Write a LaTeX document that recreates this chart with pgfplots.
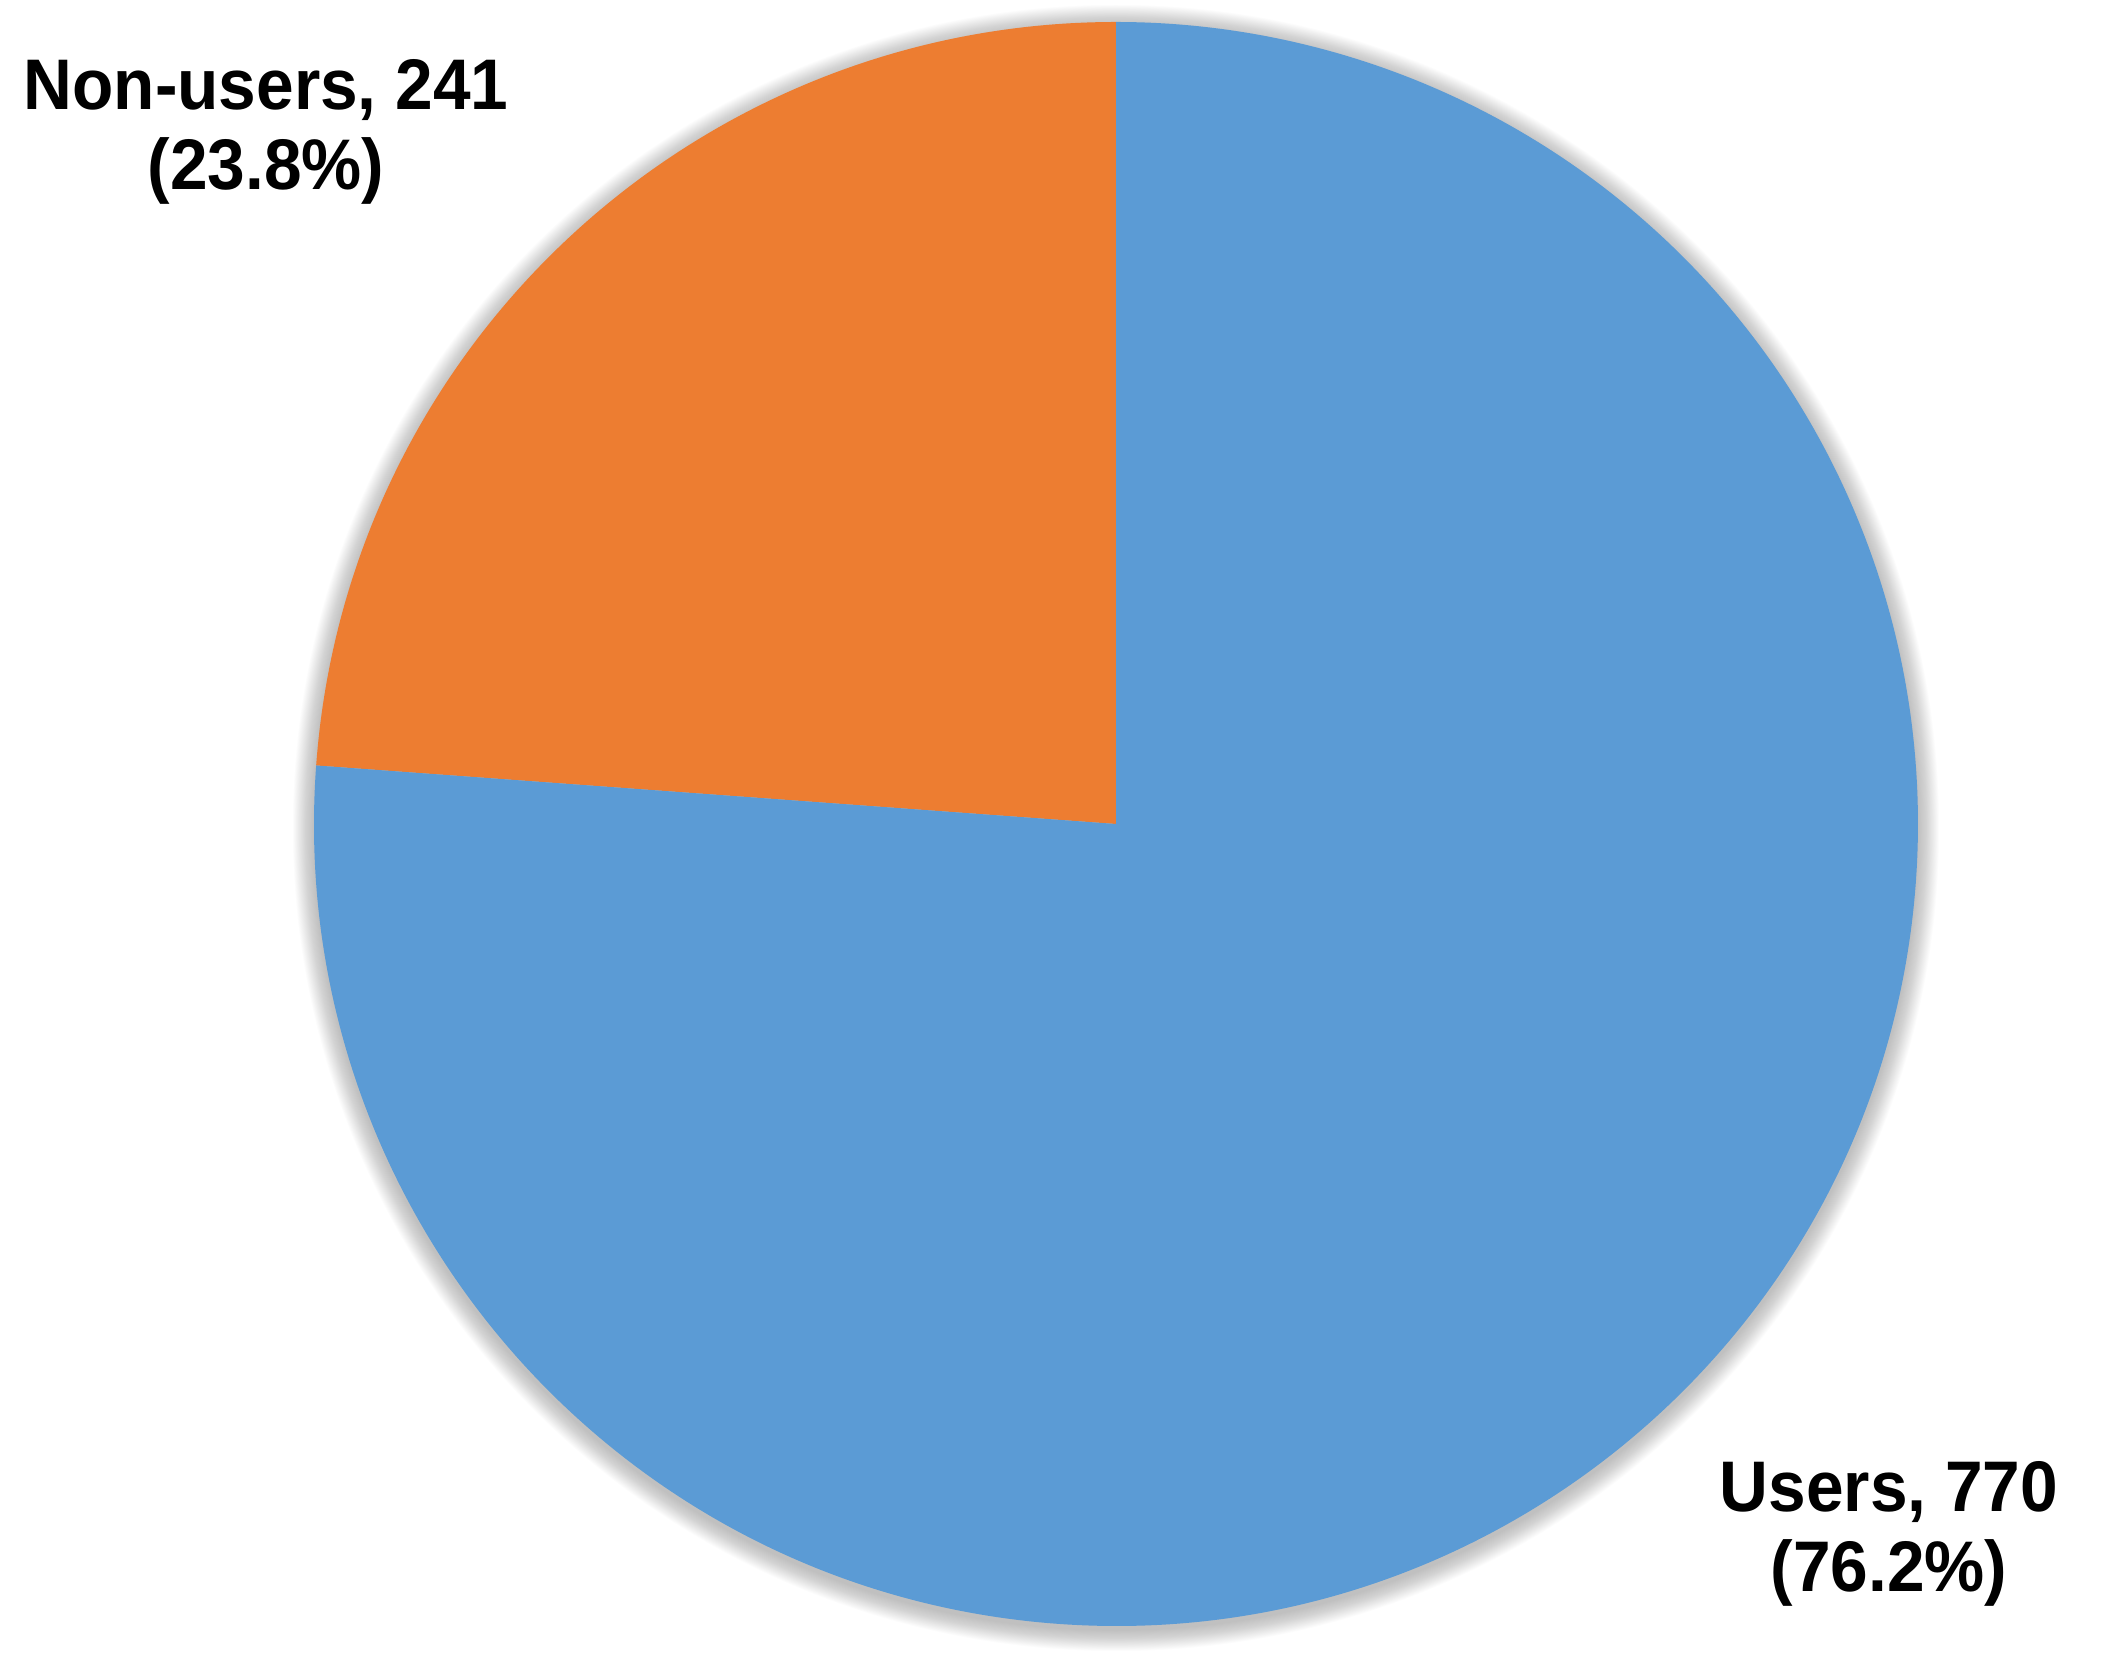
\documentclass[border=0pt]{standalone}
\usepackage{pgfplots}
\pgfplotsset{compat=1.18}
\usepackage{pgfplotstable}
\usepackage{fontspec}
\setmainfont{Liberation Sans}

\definecolor{usersblue}{HTML}{5B9BD5}
\definecolor{nonorange}{HTML}{ED7D31}

\pgfplotstableread{
label value
Users 770
Non-users 241
}\piedata

\begin{document}
\begin{tikzpicture}
\pgfplotstablegetelem{0}{value}\of\piedata \let\vusers\pgfplotsretval
\pgfplotstablegetelem{1}{value}\of\piedata \let\vnon\pgfplotsretval
\pgfmathsetmacro{\total}{\vusers+\vnon}
\pgfmathsetmacro{\angnon}{90+360*(\vnon/\total)}
\begin{axis}[
    scale only axis,
    width=525.5pt, height=415pt,
    xmin=0, xmax=2102, ymin=0, ymax=1660,
    hide axis,
    clip=false,
]
% soft shadow
\pgfplotsinvokeforeach{1,...,24}{
  \fill[black, opacity=0.011] (axis cs:1116,832) circle[radius={200.5pt+#1*0.22pt}];
}
% slices, counter-clockwise from 12 o'clock
\fill[nonorange] (axis cs:1116,836) -- ++(90:200.5pt) arc[start angle=90, end angle=\angnon, radius=200.5pt] -- cycle;
\fill[usersblue] (axis cs:1116,836) -- ++(\angnon:200.5pt) arc[start angle=\angnon, end angle=450, radius=200.5pt] -- cycle;
% labels
\begin{scope}[every node/.style={font=\fontsize{16.9}{20}\selectfont\bfseries, anchor=base, inner sep=0pt, yscale=1.06, transform shape}]
\node at (axis cs:266,1550) {Non-users, 241};
\node at (axis cs:266,1470) {(23.8\%)};
\node at (axis cs:1889,148) {Users, 770};
\node at (axis cs:1889,68) {(76.2\%)};
\end{scope}
\end{axis}
\pgfresetboundingbox
\useasboundingbox (0,0) rectangle (525.5pt,415pt);
\end{tikzpicture}
\end{document}
